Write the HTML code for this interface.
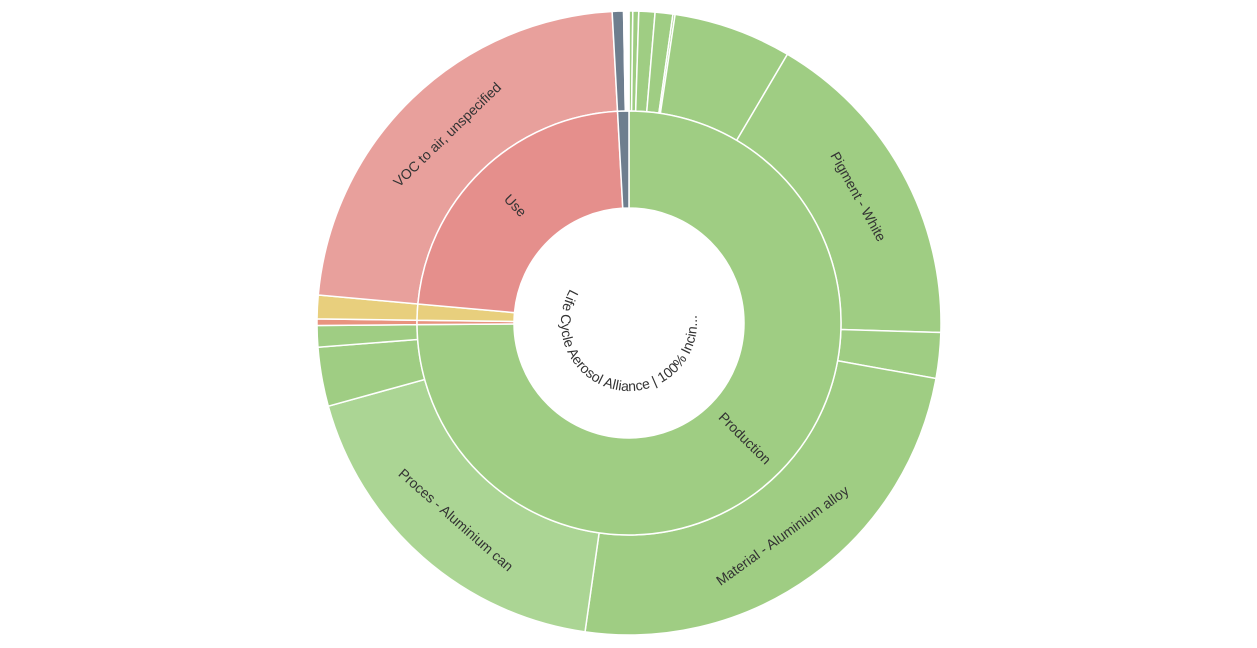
<!DOCTYPE html>
<html><head><meta charset="utf-8"><style>
html,body{margin:0;padding:0;background:#fff;}
svg{display:block;}
text{font-family:"Liberation Sans",sans-serif;font-size:14px;fill:#333;}
</style></head><body>
<svg id="chart" width="1257" height="648" viewBox="0 0 1257 648" xmlns="http://www.w3.org/2000/svg">
<defs><path id="centerPath" d="M 570.1 289 A 68 68 0 1 0 689 291"/></defs>
<g id="rings"></g>
<g id="labels"></g>
<text font-size="14"><textPath href="#centerPath">Life Cycle Aerosol Alliance | 100% Incin...</textPath></text>
</svg>
<script>
const groupNames = ["Production","Other-orange","Other-yellow","Use","Other-gray"];
const groupColors = ["#9fcd83","#e8937f","#e8cf7d","#e58f8c","#6e7e8e"];
const groupLabels = ["Production","","","Use",""];
const childValues = [
  [0.7,1.1,3.0,3.3,0.4,22,61.2,8.5,87.8,66.4,11,4.0],
  [1.2],
  [4.4],
  [81.7],
  [2.1,1.0]
];
const childColors = [
  ["#9fcd83","#9fcd83","#9fcd83","#9fcd83","#9fcd83","#9fcd83","#9fcd83","#9fcd83","#9fcd83","#abd594","#9fcd83","#9fcd83"],
  ["#e8937f"],["#e8cf7d"],["#e8a09c"],["#6e7e8e","#ffffff"]
];
const childLabels = [
  ["","","","","","","Pigment - White","","Material - Aluminium alloy","Proces - Aluminium can","",""],
  [""],[""],["VOC to air, unspecified"],["",""]
];
const cx=629, cy=323, r0=115, r1=212, r2=312;
const total = childValues.flat().reduce((a,b)=>a+b,0);
const ang = v => v/total*2*Math.PI;
function pt(r,a){return [cx+r*Math.sin(a), cy-r*Math.cos(a)];}
function arc(ri,ro,a0,a1){
  const large=(a1-a0)>Math.PI?1:0;
  const p1=pt(ro,a0),p2=pt(ro,a1),p3=pt(ri,a1),p4=pt(ri,a0);
  return `M${p1[0]},${p1[1]}A${ro},${ro} 0 ${large} 1 ${p2[0]},${p2[1]}L${p3[0]},${p3[1]}A${ri},${ri} 0 ${large} 0 ${p4[0]},${p4[1]}Z`;
}
const NS="http://www.w3.org/2000/svg";
const rings=document.getElementById('rings'), labels=document.getElementById('labels');
function addLabel(txt,r,a,radial){
  const p=pt(r,a); let deg=a*180/Math.PI;
  let rot = radial ? deg-90 : deg;
  rot = ((rot%360)+360)%360;
  if(rot>90&&rot<270) rot-=180;
  const t=document.createElementNS(NS,'text');
  
  
  t.setAttribute('x',p[0]);t.setAttribute('y',p[1]);
  t.setAttribute('text-anchor','middle');t.setAttribute('dominant-baseline','central');
  t.setAttribute('transform',`rotate(${rot} ${p[0]} ${p[1]})`);
  t.textContent=txt; labels.appendChild(t);
}
let acc=0;
groupNames.forEach((g,gi)=>{
  const gs=acc;
  childValues[gi].forEach((v,ci)=>{
    const a0=ang(acc), a1=ang(acc+v);
    const p=document.createElementNS(NS,'path');
    
    
    p.setAttribute('d',arc(r1,r2,a0,a1));
    p.setAttribute('fill',childColors[gi][ci]);
    p.setAttribute('stroke','#fff');p.setAttribute('stroke-width','1.5');
    rings.appendChild(p);
    if(childLabels[gi][ci]) addLabel(childLabels[gi][ci],(r1+r2)/2,(a0+a1)/2,false);
    acc+=v;
  });
  const a0=ang(gs), a1=ang(acc);
  const p=document.createElementNS(NS,'path');
  
  
  p.setAttribute('d',arc(r0,r1,a0,a1));
  p.setAttribute('fill',groupColors[gi]);
  p.setAttribute('stroke','#fff');p.setAttribute('stroke-width','1.5');
  rings.appendChild(p);
  if(groupLabels[gi]) addLabel(groupLabels[gi],(r0+r1)/2,(a0+a1)/2,true);
});
</script>
</body></html>
